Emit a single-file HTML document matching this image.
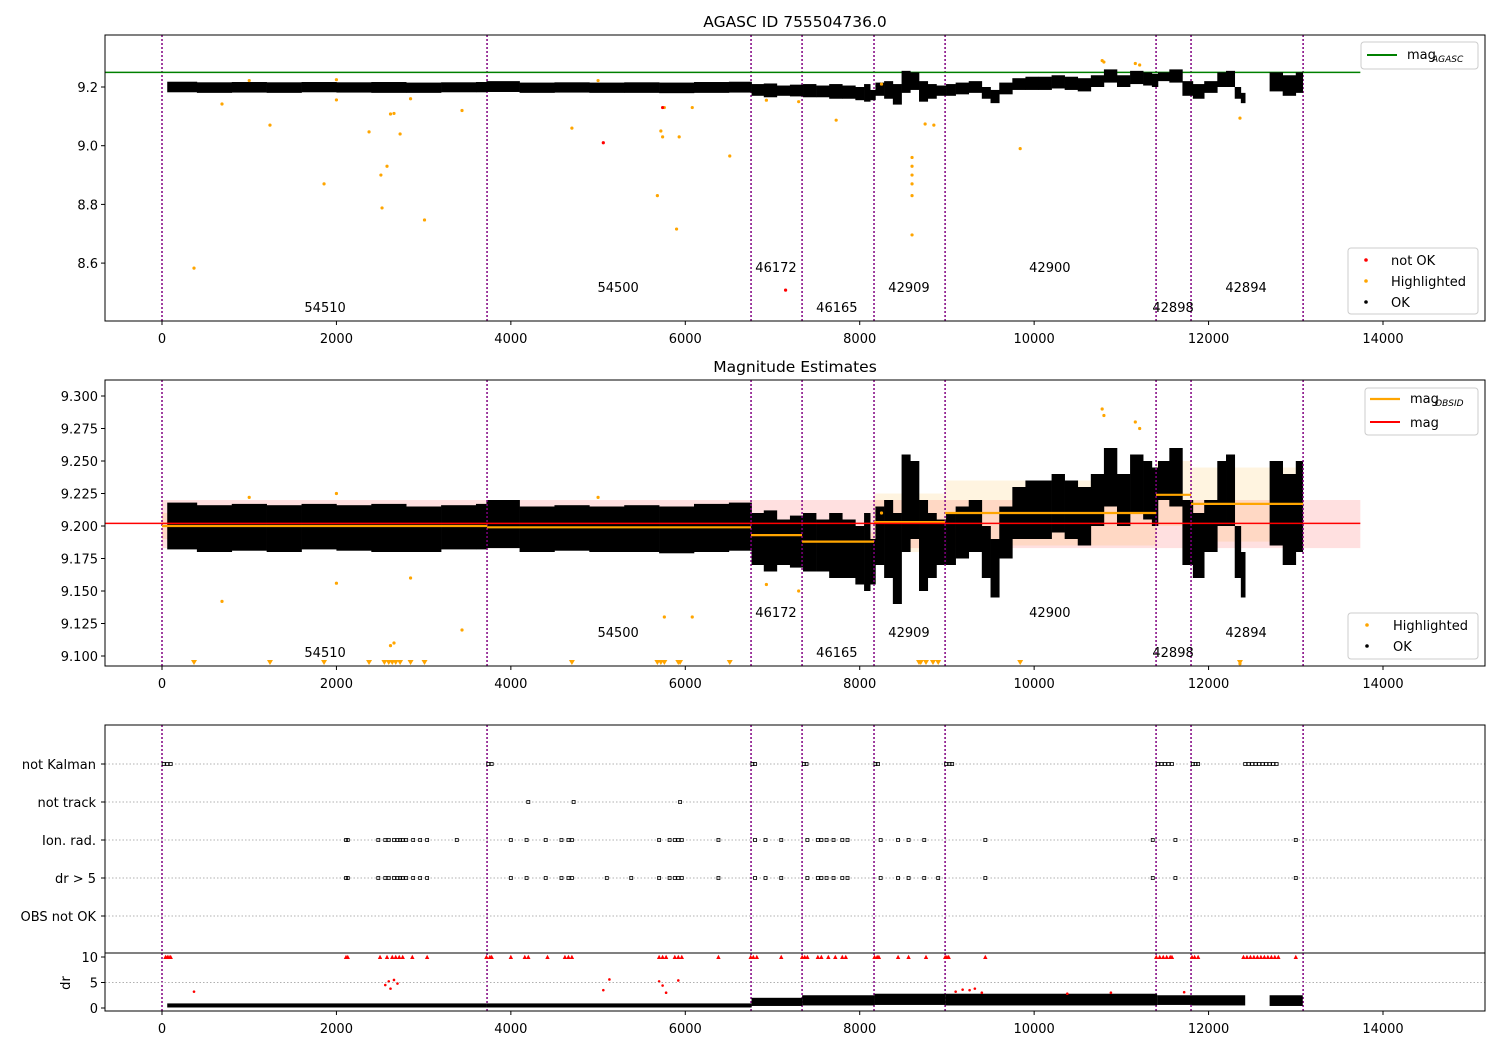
<!DOCTYPE html>
<html><head><meta charset="utf-8">
<style>
html,body{margin:0;padding:0;background:#fff;overflow:hidden;width:1500px;height:1050px;}
svg{display:block;font-family:"DejaVu Sans","Liberation Sans",sans-serif;}
text{fill:#000;}
</style></head>
<body>
<svg id="chart" width="1500" height="1050" viewBox="0 0 1500 1050" xmlns="http://www.w3.org/2000/svg"></svg>
<script>
// ---------- DATA ----------
const xTicks = [0,2000,4000,6000,8000,10000,12000,14000];
const obsBoundaries = [0,3727,6754,7339,8164,8979,11398,11799,13084];
const obsIds = ["54510","54500","46172","46165","42909","42900","42898","42894"];
const obsLabelT = [1870,5230,7040,7738,8565,10180,11593,12430];
const obsLabelLevel = [0,1,2,0,1,2,0,1];
// OK band envelope: time, low, high (null = gap)
const okT  = [60,400,800,1200,1600,2000,2400,2800,3200,3600,3720,4100,4500,4900,5300,5700,6100,6500,6760,6900,7050,7200,7350,7500,7650,7800,7950,8050,8120,8180,8280,8380,8480,8580,8680,8780,8880,8990,9100,9250,9400,9500,9600,9750,9900,10050,10200,10350,10500,10650,10800,10950,11100,11250,11350,11420,11550,11700,11820,11950,12100,12200,12300,12370,12420,12700,12850,13000,13080];
const okLo = [9.182,9.18,9.181,9.18,9.182,9.181,9.18,9.18,9.182,9.182,9.183,9.18,9.181,9.18,9.18,9.179,9.18,9.181,9.17,9.165,9.17,9.168,9.165,9.165,9.16,9.16,9.155,9.15,9.155,9.17,9.16,9.14,9.18,9.19,9.15,9.16,9.17,9.17,9.175,9.18,9.16,9.145,9.175,9.19,9.19,9.19,9.195,9.19,9.185,9.2,9.215,9.2,9.21,9.205,9.2,9.22,9.215,9.17,9.16,9.18,9.2,9.2,9.16,9.145,null,9.185,9.17,9.18,null];
const okHi = [9.218,9.216,9.217,9.216,9.217,9.216,9.217,9.215,9.216,9.217,9.22,9.215,9.216,9.215,9.216,9.215,9.217,9.218,9.21,9.212,9.205,9.208,9.21,9.205,9.21,9.205,9.2,9.21,9.19,9.215,9.22,9.21,9.255,9.25,9.22,9.21,9.205,9.21,9.215,9.22,9.2,9.19,9.215,9.23,9.235,9.235,9.24,9.235,9.23,9.24,9.26,9.24,9.255,9.25,9.245,9.25,9.26,9.22,9.21,9.22,9.25,9.255,9.2,9.18,null,9.25,9.24,9.25,null];
// Highlighted points
const hiT = [367,688,1238,1858,2000,2374,2510,2523,2580,2620,2660,2730,2850,3010,3440,4700,5680,5720,5740,5760,5900,5930,6080,6510,6930,7300,7730,8600,8600,8600,8600,8600,8600,8750,8850,9840,10780,10800,11160,11210,12360,8250,5000,2000,1000];
const hiM = [8.583,9.142,9.07,8.87,9.156,9.047,8.9,8.788,8.93,9.108,9.11,9.04,9.16,8.747,9.12,9.06,8.83,9.05,9.03,9.13,8.716,9.03,9.13,8.965,9.155,9.15,9.087,8.96,8.93,8.9,8.87,8.83,8.696,9.074,9.07,8.99,9.29,9.285,9.28,9.275,9.094,9.21,9.222,9.225,9.222];
// not OK points
const badT = [5060,5740,7150];
const badM = [9.01,9.13,8.508];
// below-range markers in panel 2
const lowT = [367,1238,1858,2374,2550,2600,2640,2680,2730,2850,3010,4700,5680,5720,5760,5920,5940,6510,8680,8700,8760,8840,8900,9840,12360];
// OBSID mags & ranges
const segMag = [9.200,9.199,9.193,9.188,9.203,9.210,9.224,9.217];
const segLo  = [9.19,9.19,9.185,9.18,9.18,9.185,9.2,9.188];
const segHi  = [9.21,9.21,9.2,9.195,9.225,9.235,9.25,9.245];
const magMean = 9.202, magLo = 9.183, magHi = 9.22, agascMag = 9.25;
// flags
const flagRows = ["not Kalman","not track","Ion. rad.","dr > 5","OBS not OK"];
const notKalmanT = [20,60,100,3740,3780,6770,6800,7360,7390,8180,8210,8990,9030,9060,11420,11460,11500,11540,11580,11820,11850,11880,12420,12460,12500,12540,12580,12620,12660,12700,12740,12780];
const notTrackT = [4200,4720,5940];
const ionT = [2110,2130,2480,2560,2600,2660,2700,2730,2760,2800,2880,2960,3040,3380,4000,4180,4400,4580,4660,4700,5700,5820,5880,5920,5960,6380,6800,6920,7100,7400,7520,7560,7620,7700,7800,7860,8240,8440,8560,8740,9440,11360,11620,13000];
const drBigT = [2110,2130,2480,2560,2600,2660,2700,2730,2760,2800,2880,2960,3040,4000,4180,4400,4580,4660,4700,5100,5380,5700,5820,5880,5920,5960,6380,6800,6920,7100,7400,7520,7560,7620,7700,7800,7860,8240,8440,8560,8740,8900,9440,11360,11620,13000];
const drTenT = [40,60,80,100,2110,2130,2500,2580,2640,2680,2720,2760,2870,3040,3720,3760,3780,4000,4160,4200,4420,4620,4660,4700,5700,5740,5780,5880,5920,5960,6380,6750,6780,6820,7100,7340,7370,7400,7520,7560,7640,7720,7800,7840,8170,8200,8220,8440,8560,8760,8980,9000,9020,9440,11400,11440,11480,11520,11560,11580,11810,11840,11880,12400,12440,12480,12520,12560,12600,12640,12680,12720,12760,12800,13000];
const drOkT  = [60,3720,6760,7340,8170,8980,11410,11810,12420,12700,13080];
const drOkLo = [0.1,0.1,0.4,0.5,0.6,0.5,0.6,0.5,null,0.4,null];
const drOkHi = [0.9,0.9,2.0,2.5,2.8,2.8,2.5,2.5,null,2.5,null];
const drRedT = [367,2560,2600,2620,2660,2700,5060,5130,5700,5740,5780,5920,9100,9180,9260,9320,9400,10380,10880,11720];
const drRedV = [3.2,4.5,5.2,3.8,5.5,4.8,3.5,5.6,5.2,4.4,3.0,5.4,3.2,3.6,3.5,3.8,3.0,2.8,3.0,3.1];

// ---------- RENDER ----------
const svg = document.getElementById('chart');
const NS = 'http://www.w3.org/2000/svg';
function el(tag, attrs, parent){ const e=document.createElementNS(NS,tag); for(const k in attrs) e.setAttribute(k,attrs[k]); (parent||svg).appendChild(e); return e; }
function tx(x,y,s,anchor,parent,size){ const t=el('text',{x:x,y:y,'text-anchor':anchor||'middle'},parent); t.style.fontSize=(size||13)+'px'; t.textContent=s; return t; }
const X = t => 162 + t*(1383-162)/14000;
const L=105, R=1485;
const P1 = {top:35,bot:321, y:m=>87-(m-9.2)*293.5};
const P2 = {top:380,bot:666, y:m=>396+(9.3-m)*1300};
const yDr = v => 1008 - v*5.1;

function axisX(p, g){
  xTicks.forEach(v=>{ el('line',{x1:X(v),x2:X(v),y1:p.bot,y2:p.bot+4,stroke:'#000'},g); tx(X(v),p.bot+22,String(v),'middle',g); });
}
function frame(top,bot,name){ const r=el('rect',{x:L,y:top,width:R-L,height:bot-top,fill:'none',stroke:'#000','stroke-width':1});   }
function vlines(top,bot,g){ obsBoundaries.forEach(t=>{ el('line',{x1:X(t),x2:X(t),y1:top,y2:bot,stroke:'#800080','stroke-width':1.5,'stroke-dasharray':'2,2'},g); }); }
function obsLabels(p,g){ obsIds.forEach((s,i)=>{ const t=tx(X(obsLabelT[i]),p.bot-9-obsLabelLevel[i]*20,s,'middle',g);   }); }
function okBand(p,g,ymap){
  for(let i=0;i<okT.length-1;i++){ if(okLo[i]===null) continue;
    const y1=ymap(okHi[i]), y2=ymap(okLo[i]);
    const r=el('rect',{x:X(okT[i]),y:y1,width:X(okT[i+1])-X(okT[i])+0.3,height:Math.max(1.5,y2-y1),fill:'#000'},g);
     
  }
}
function clip(id,top,bot){ const c=el('clipPath',{id:id}); el('rect',{x:L,y:top,width:R-L,height:bot-top},c); }

// ---- Panel 1
const g1 = el('g',{});  
clip('c1',P1.top,P1.bot);
const t1=tx(795,27,'AGASC ID 755504736.0','middle',g1,15.5);  
const d1 = el('g',{'clip-path':'url(#c1)'},g1);
vlines(P1.top,P1.bot,d1);
el('line',{x1:L,x2:X(13740),y1:P1.y(agascMag),y2:P1.y(agascMag),stroke:'#008000','stroke-width':1.5},d1);
okBand(P1,d1,P1.y);
hiT.forEach((t,i)=>{ const c=el('circle',{cx:X(t),cy:P1.y(hiM[i]),r:1.6,fill:'orange'},d1);   });
badT.forEach((t,i)=>{ const c=el('circle',{cx:X(t),cy:P1.y(badM[i]),r:1.6,fill:'red'},d1);   });
obsLabels(P1,g1);
frame(P1.top,P1.bot,'agasc-plot-frame');
axisX(P1,g1);
[9.2,9.0,8.8,8.6].forEach(v=>{ el('line',{x1:L-4,x2:L,y1:P1.y(v),y2:P1.y(v),stroke:'#000'},g1); tx(L-7,P1.y(v)+5,v.toFixed(1),'end',g1); });
// legends panel 1
const lg1=el('g',{});  
el('rect',{x:1361,y:42,width:117,height:27,rx:3,fill:'#fff',stroke:'#ccc'},lg1);
el('line',{x1:1367,x2:1397,y1:55,y2:55,stroke:'#008000','stroke-width':2},lg1);
tx(1407,59,'mag','start',lg1); tx(1432,62,'AGASC','start',lg1,9).style.fontStyle='italic';
const lg2=el('g',{});  
el('rect',{x:1348,y:248,width:130,height:66,rx:3,fill:'#fff',stroke:'#ccc'},lg2);
[['not OK','red',260],['Highlighted','orange',281],['OK','#000',302]].forEach(a=>{ el('circle',{cx:1366,cy:a[2],r:1.8,fill:a[1]},lg2); tx(1391,a[2]+5,a[0],'start',lg2); });

// ---- Panel 2
const g2 = el('g',{});  
clip('c2',P2.top,P2.bot);
const t2=tx(795,372,'Magnitude Estimates','middle',g2,15.5);  
const d2 = el('g',{'clip-path':'url(#c2)'},g2);
el('rect',{x:X(0),y:P2.y(magHi),width:X(13740)-X(0),height:P2.y(magLo)-P2.y(magHi),fill:'red','fill-opacity':0.12},d2);
for(let i=0;i<segMag.length;i++){ el('rect',{x:X(obsBoundaries[i]),y:P2.y(segHi[i]),width:X(obsBoundaries[i+1])-X(obsBoundaries[i]),height:P2.y(segLo[i])-P2.y(segHi[i]),fill:'orange','fill-opacity':0.12},d2); }
okBand(P2,d2,P2.y);
vlines(P2.top,P2.bot,d2);
hiT.forEach((t,i)=>{ el('circle',{cx:X(t),cy:P2.y(hiM[i]),r:1.6,fill:'orange'},d2); });
lowT.forEach(t=>{ const x=X(t),y=663; el('path',{d:`M${x-3},${y-3}L${x+3},${y-3}L${x},${y+2}Z`,fill:'orange'},d2); });
for(let i=0;i<segMag.length;i++){ const l=el('line',{x1:X(obsBoundaries[i]),x2:X(obsBoundaries[i+1]),y1:P2.y(segMag[i]),y2:P2.y(segMag[i]),stroke:'orange','stroke-width':2.2},d2);   }
el('line',{x1:L,x2:X(13740),y1:P2.y(magMean),y2:P2.y(magMean),stroke:'red','stroke-width':1.5},d2);
obsLabels(P2,g2);
frame(P2.top,P2.bot,'mag-plot-frame');
axisX(P2,g2);
[9.3,9.275,9.25,9.225,9.2,9.175,9.15,9.125,9.1].forEach(v=>{ el('line',{x1:L-4,x2:L,y1:P2.y(v),y2:P2.y(v),stroke:'#000'},g2); tx(L-7,P2.y(v)+5,v.toFixed(3),'end',g2); });
const lg3=el('g',{});  
el('rect',{x:1365,y:388,width:113,height:47,rx:3,fill:'#fff',stroke:'#ccc'},lg3);
el('line',{x1:1370,x2:1400,y1:399,y2:399,stroke:'orange','stroke-width':2.2},lg3);
tx(1410,403,'mag','start',lg3); tx(1435,406,'OBSID','start',lg3,9).style.fontStyle='italic';
el('line',{x1:1370,x2:1400,y1:422,y2:422,stroke:'red','stroke-width':2},lg3);
tx(1410,427,'mag','start',lg3);
const lg4=el('g',{});  
el('rect',{x:1348,y:613,width:130,height:46,rx:3,fill:'#fff',stroke:'#ccc'},lg4);
[['Highlighted','orange',625],['OK','#000',646]].forEach(a=>{ el('circle',{cx:1367,cy:a[2],r:1.8,fill:a[1]},lg4); tx(1393,a[2]+5,a[0],'start',lg4); });

// ---- Panel 3
const g3 = el('g',{});  
clip('c3',725,1011);
const rowY = [764,802,840,878,916];
flagRows.forEach((s,i)=>{ el('line',{x1:L,x2:R,y1:rowY[i],y2:rowY[i],stroke:'#b0b0b0','stroke-dasharray':'1.5,2'},g3); el('line',{x1:L-4,x2:L,y1:rowY[i],y2:rowY[i],stroke:'#000'},g3); const t=tx(L-9,rowY[i]+5,s,'end',g3);   });
const d3 = el('g',{'clip-path':'url(#c3)'},g3);
vlines(725,1011,d3);
function sq(t,y){ el('rect',{x:X(t)-1.5,y:y-1.5,width:3,height:3,fill:'none',stroke:'#000','stroke-width':0.8},d3); }
notKalmanT.forEach(t=>sq(t,rowY[0]));
notTrackT.forEach(t=>sq(t,rowY[1]));
ionT.forEach(t=>sq(t,rowY[2]));
drBigT.forEach(t=>sq(t,rowY[3]));
// dr subplot
el('line',{x1:L,x2:R,y1:953,y2:953,stroke:'#000'},g3);
el('line',{x1:L,x2:R,y1:yDr(5),y2:yDr(5),stroke:'#b0b0b0','stroke-dasharray':'1.5,2'},g3);
[10,5,0].forEach(v=>{ el('line',{x1:L-4,x2:L,y1:yDr(v),y2:yDr(v),stroke:'#000'},g3); tx(L-7,yDr(v)+5,String(v),'end',g3); });
const dl=tx(70,983,'dr','middle',g3); dl.setAttribute('transform','rotate(-90 70 983)');  
for(let i=0;i<drOkT.length-1;i++){ if(drOkLo[i]===null) continue; el('rect',{x:X(drOkT[i]),y:yDr(drOkHi[i]),width:X(drOkT[i+1])-X(drOkT[i]),height:yDr(drOkLo[i])-yDr(drOkHi[i]),fill:'#000'},d3); }
drRedT.forEach((t,i)=>{ el('circle',{cx:X(t),cy:yDr(drRedV[i]),r:1.3,fill:'red'},d3); });
drTenT.forEach(t=>{ const x=X(t),y=yDr(10); el('path',{d:`M${x-2.2},${y+2}L${x+2.2},${y+2}L${x},${y-2.2}Z`,fill:'red'},d3); });
frame(725,1011,'flags-plot-frame');
axisX({bot:1011},g3);
</script>
</body></html>
